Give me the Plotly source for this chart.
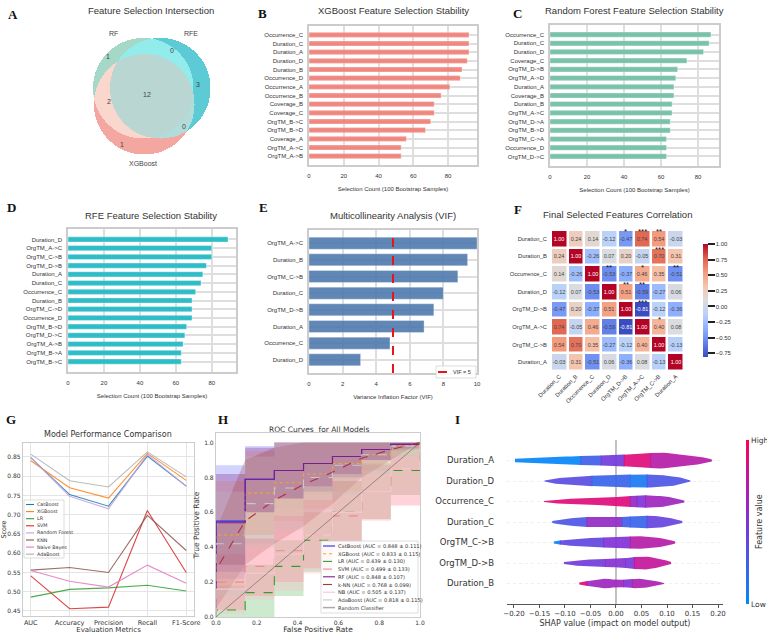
import numpy as np
import plotly.graph_objects as go

W, H = 767, 634

# ======================= DATA =======================
# A  Venn diagram of selected features
venn_set_names = ["RF", "RFE", "XGBoost"]
venn_region_names = ["RF only", "RFE only", "RF & RFE", "XGBoost only", "RF & XGBoost", "RFE & XGBoost", "All three"]
venn_region_counts = [1, 3, 0, 1, 2, 0, 12]

# B  XGBoost stability
xgb_features = ["Occurrence_C", "Duration_C", "Duration_A", "Duration_D", "Duration_B", "Occurrence_D",
                "Occurrence_A", "Occurrence_B", "Coverage_B", "Coverage_C", "OrgTM_B->C", "OrgTM_B->D",
                "Coverage_A", "OrgTM_A->C", "OrgTM_A->B"]
xgb_counts = [92, 92, 92, 91, 88, 87, 81, 76, 72, 72, 70, 67, 56, 53, 53]

# C  Random forest stability
rf_features = ["Occurrence_C", "Duration_C", "Duration_D", "Coverage_C", "OrgTM_D->B", "OrgTM_A->D",
               "Duration_A", "Coverage_B", "Duration_B", "OrgTM_A->C", "OrgTM_D->A", "OrgTM_B->D",
               "OrgTM_C->A", "Occurrence_D", "OrgTM_D->C"]
rf_counts = [87, 86, 83, 74, 69, 68, 67, 67, 66, 66, 65, 65, 63, 63, 63]

# D  RFE stability
rfe_features = ["Duration_D", "OrgTM_A->C", "OrgTM_C->B", "OrgTM_D->B", "Duration_A", "Duration_C",
                "Occurrence_C", "Duration_B", "OrgTM_C->D", "Occurrence_D", "OrgTM_B->D", "OrgTM_D->C",
                "OrgTM_A->B", "OrgTM_B->A", "OrgTM_B->C"]
rfe_counts = [89, 80, 80, 77, 75, 74, 71, 69, 69, 69, 66, 65, 64, 63, 63]

# E  VIF
vif_features = ["OrgTM_A->C", "Duration_B", "OrgTM_C->B", "Duration_C", "OrgTM_D->B", "Duration_A",
                "Occurrence_C", "Duration_D"]
vif_values = [10.0, 9.44, 8.86, 7.99, 7.43, 6.85, 4.82, 3.07]
vif_threshold = 5

# F  correlation
corr_features = ["Duration_C", "Duration_B", "Occurrence_C", "Duration_D", "OrgTM_D->B", "OrgTM_A->C",
                 "OrgTM_C->B", "Duration_A"]
corr_matrix = [
    [1.00, 0.24, 0.14, -0.12, -0.47, 0.74, 0.54, -0.03],
    [0.24, 1.00, -0.26, 0.07, 0.20, -0.05, 0.70, 0.31],
    [0.14, -0.26, 1.00, -0.53, -0.37, 0.46, 0.35, -0.51],
    [-0.12, 0.07, -0.53, 1.00, 0.51, -0.59, -0.27, 0.06],
    [-0.47, 0.20, -0.37, 0.51, 1.00, -0.81, -0.12, -0.36],
    [0.74, -0.05, 0.46, -0.59, -0.81, 1.00, 0.40, 0.08],
    [0.54, 0.70, 0.35, -0.27, -0.12, 0.40, 1.00, -0.13],
    [-0.03, 0.31, -0.51, 0.06, -0.36, 0.08, -0.13, 1.00],
]
corr_star_rows = ["Duration_C", "Duration_C", "Duration_C", "Duration_B", "Occurrence_C", "Occurrence_C",
                  "Occurrence_C", "Duration_D", "Duration_D", "OrgTM_D->B", "OrgTM_A->C"]
corr_star_cols = ["OrgTM_D->B", "OrgTM_A->C", "OrgTM_C->B", "OrgTM_C->B", "Duration_D", "OrgTM_A->C",
                  "Duration_A", "OrgTM_D->B", "OrgTM_A->C", "OrgTM_A->C", "OrgTM_C->B"]
corr_star_marks = ["*", "***", "**", "***", "**", "*", "**", "**", "**", "***", "*"]

# G  model performance
metrics = ["AUC", "Accuracy", "Precision", "Recall", "F1-Score"]
perf_models = ["CatBoost", "XGBoost", "LR", "SVM", "Random Forest", "KNN", "Naive Bayes", "AdaBoost"]
perf_catboost = [0.848, 0.752, 0.722, 0.852, 0.774]
perf_xgboost = [0.840, 0.770, 0.743, 0.859, 0.789]
perf_lr = [0.486, 0.506, 0.510, 0.517, 0.502]
perf_svm = [0.541, 0.456, 0.460, 0.711, 0.550]
perf_rf = [0.848, 0.748, 0.715, 0.856, 0.774]
perf_knn = [0.556, 0.563, 0.550, 0.698, 0.607]
perf_nb = [0.555, 0.527, 0.512, 0.569, 0.522]
perf_ada = [0.857, 0.788, 0.772, 0.863, 0.798]

# H  ROC curves (mean TPR per FPR step, with +-1 std band)
roc_fpr = [0.0, 0.143, 0.286, 0.429, 0.571, 0.714, 0.857, 1.0]
roc_models = ["CatBoost", "XGBoost", "LR", "SVM", "RF", "k-NN", "NB", "AdaBoost"]
roc_auc_labels = ["0.848 ± 0.111", "0.833 ± 0.115", "0.439 ± 0.130", "0.499 ± 0.133",
                  "0.848 ± 0.107", "0.768 ± 0.099", "0.505 ± 0.137", "0.818 ± 0.115"]
tpr_catboost = [0.55, 0.79, 0.84, 0.88, 0.92, 0.96, 0.99]
tpr_catboost_hi = [0.87, 0.98, 1.0, 1.0, 1.0, 1.0, 1.0]
tpr_catboost_lo = [0.22, 0.60, 0.68, 0.72, 0.80, 0.90, 0.97]
tpr_xgboost = [0.47, 0.71, 0.77, 0.82, 0.88, 0.93, 0.98]
tpr_xgboost_hi = [0.78, 0.95, 1.0, 1.0, 1.0, 1.0, 1.0]
tpr_xgboost_lo = [0.16, 0.47, 0.55, 0.62, 0.72, 0.84, 0.93]
tpr_lr = [0.04, 0.14, 0.29, 0.44, 0.60, 0.72, 0.84]
tpr_lr_hi = [0.18, 0.30, 0.44, 0.60, 0.78, 0.88, 0.96]
tpr_lr_lo = [0.0, 0.0, 0.12, 0.26, 0.40, 0.56, 0.70]
tpr_svm = [0.20, 0.29, 0.38, 0.47, 0.58, 0.72, 0.85]
tpr_svm_hi = [0.36, 0.45, 0.58, 0.67, 0.78, 0.87, 0.93]
tpr_svm_lo = [0.04, 0.12, 0.20, 0.28, 0.40, 0.56, 0.64]
tpr_rf = [0.54, 0.79, 0.84, 0.88, 0.92, 0.96, 0.99]
tpr_rf_hi = [0.82, 0.97, 1.0, 1.0, 1.0, 1.0, 1.0]
tpr_rf_lo = [0.26, 0.60, 0.68, 0.75, 0.82, 0.90, 0.96]
tpr_knn = [0.27, 0.55, 0.67, 0.76, 0.83, 0.91, 0.96, 1.0]
tpr_knn_hi = [0.50, 0.90, 0.97, 1.0, 1.0, 1.0, 1.0, 1.0]
tpr_knn_lo = [0.05, 0.30, 0.42, 0.52, 0.65, 0.80, 0.90, 1.0]
tpr_nb = [0.16, 0.25, 0.36, 0.47, 0.60, 0.72, 0.85]
tpr_nb_hi = [0.30, 0.42, 0.62, 0.70, 0.80, 0.88, 0.95]
tpr_nb_lo = [0.02, 0.10, 0.15, 0.25, 0.38, 0.55, 0.70]
tpr_ada = [0.42, 0.65, 0.74, 0.80, 0.87, 0.93, 0.98]
tpr_ada_hi = [0.72, 0.92, 1.0, 1.0, 1.0, 1.0, 1.0]
tpr_ada_lo = [0.12, 0.40, 0.50, 0.60, 0.70, 0.82, 0.92]

# I  SHAP violin summary (density outline + feature-value colour per segment)
shap_features = ["Duration_A", "Duration_D", "Occurrence_C", "Duration_C", "OrgTM_C->B", "OrgTM_D->B", "Duration_B"]
shap_x = [
    [-0.198, -0.15, -0.10, -0.05, 0.0, 0.05, 0.09, 0.13, 0.17, 0.188],
    [-0.14, -0.12, -0.08, -0.04, 0.0, 0.04, 0.08, 0.12, 0.146],
    [-0.141, -0.10, -0.05, 0.0, 0.03, 0.06, 0.10, 0.134],
    [-0.125, -0.10, -0.06, -0.02, 0.01, 0.04, 0.07, 0.10, 0.13],
    [-0.122, -0.11, -0.08, -0.04, 0.0, 0.04, 0.07, 0.10, 0.116],
    [-0.102, -0.07, -0.03, 0.01, 0.035, 0.06, 0.09, 0.108],
    [-0.072, -0.05, -0.02, 0.0, 0.02, 0.04, 0.06, 0.08, 0.094],
]
shap_halfwidth = [
    [0.08, 0.15, 0.19, 0.23, 0.26, 0.34, 0.39, 0.29, 0.16, 0.05],
    [0.03, 0.13, 0.21, 0.26, 0.29, 0.32, 0.31, 0.21, 0.03],
    [0.03, 0.13, 0.16, 0.21, 0.27, 0.31, 0.24, 0.05],
    [0.05, 0.16, 0.24, 0.24, 0.24, 0.29, 0.31, 0.23, 0.05],
    [0.05, 0.10, 0.18, 0.23, 0.26, 0.31, 0.27, 0.16, 0.05],
    [0.05, 0.15, 0.19, 0.21, 0.29, 0.32, 0.19, 0.05],
    [0.05, 0.15, 0.24, 0.18, 0.18, 0.24, 0.19, 0.11, 0.03],
]
shap_breaks = [
    [-0.198, -0.07, -0.03, 0.015, 0.067, 0.188],
    [-0.14, -0.048, 0.027, 0.06, 0.146],
    [-0.141, 0.027, 0.04, 0.057, 0.134],
    [-0.125, -0.058, 0.011, 0.027, 0.06, 0.13],
    [-0.122, -0.11, -0.025, 0.027, 0.116],
    [-0.102, -0.022, 0.018, 0.035, 0.108],
    [-0.072, -0.058, 0.014, 0.031, 0.094],
]
shap_featval = [
    [0.02, 0.25, 0.45, 0.88, 0.72],
    [0.35, 0.22, 0.10, 0.30],
    [0.88, 0.60, 0.50, 0.62],
    [0.30, 0.58, 0.25, 0.22, 0.40],
    [0.05, 0.38, 0.50, 0.72],
    [0.45, 0.52, 0.48, 0.78],
    [0.90, 0.62, 0.52, 0.68],
]

# ======================= HELPERS =======================
SANS = "Liberation Sans"
DEJA = "DejaVu Sans"
GRID = "#dedede"
BORDER = "#cccccc"
TXT = "#333333"

fig = go.Figure()
layout = dict(width=W, height=H, margin=dict(l=0, r=0, t=0, b=0, autoexpand=False), paper_bgcolor="white",
              plot_bgcolor="white", font=dict(family=SANS, size=7, color=TXT), showlegend=False)
annotations = []
shapes = []


def xd(x0, x1):
    return [x0 / W, x1 / W]


def yd(y0, y1):
    return [1 - y1 / H, 1 - y0 / H]


def ax(k, which):
    return f"{which}axis" if k == 1 else f"{which}axis{k}"


def ref(k, which):
    return which if k == 1 else f"{which}{k}"


def text_px(x, y, text, size, family=SANS, color=TXT, **kw):
    d = dict(x=x / W, y=1 - y / H, xref="paper", yref="paper", text=text, showarrow=False,
             xanchor="center", yanchor="middle", font=dict(family=family, size=size, color=color))
    d.update(kw)
    annotations.append(d)


def manual_legend(box, entries, size, family, sample_len, row_h, pad_top):
    x0, y0, x1, y1 = box
    shapes.append(dict(type="rect", xref="paper", yref="paper", x0=x0 / W, x1=x1 / W, y0=1 - y1 / H,
                       y1=1 - y0 / H, fillcolor="rgba(255,255,255,0.88)", line=dict(color="#cfcfcf", width=0.7),
                       layer="above"))
    for i, (name, col, dash, wid) in enumerate(entries):
        yy = y0 + pad_top + i * row_h
        shapes.append(dict(type="line", xref="paper", yref="paper", x0=(x0 + 2) / W, x1=(x0 + 2 + sample_len) / W,
                           y0=1 - yy / H, y1=1 - yy / H, line=dict(color=col, width=wid, dash=dash),
                           layer="above"))
        annotations.append(dict(x=(x0 + 4 + sample_len) / W, y=1 - yy / H, xref="paper", yref="paper",
                                text=name, showarrow=False, xanchor="left", yanchor="middle",
                                font=dict(size=size, family=family, color=TXT), borderpad=0))


# ---------------- A: Venn ----------------
circ = {"RF": (83, 92), "RFE": (100, 92), "XGBoost": (84, 76)}
R = 50
gx = np.arange(0, 180.5, 0.5)
gy = np.arange(0, 160.5, 0.5)
GX, GY = np.meshgrid(gx, gy)
inside = [((GX - circ[s][0]) ** 2 + (GY - circ[s][1]) ** 2 <= R ** 2) for s in venn_set_names]
code = inside[0] * 1 + inside[1] * 2 + inside[2] * 4
zv = np.where(code == 0, np.nan, code).astype(float)
region_cols = ["#a6d8c8", "#5ccbd5", "#93ecec", "#f4a6a0", "#f9d7cd", "#b2dcda", "#b9d6d2"]
cs = []
for i, c in enumerate(region_cols):
    cs.append([i / 7, c])
    cs.append([(i + 1) / 7, c])
fig.add_trace(go.Heatmap(x=gx, y=gy, z=zv, colorscale=cs, zmin=0.5, zmax=7.5, showscale=False,
                         hoverinfo="skip", xaxis="x", yaxis="y"))
layout["xaxis"] = dict(domain=xd(60, 240), anchor="y", range=[0, 180], visible=False)
layout["yaxis"] = dict(domain=yd(20, 180), anchor="x", range=[0, 160], visible=False)
region_pos = [(48, 124), (138, 96), (112, 130), (62, 36), (49, 79), (124, 54), (87, 86)]
for (px_, py_), cnt in zip(region_pos, venn_region_counts):
    annotations.append(dict(x=px_, y=py_, xref="x", yref="y", text=str(cnt), showarrow=False,
                            font=dict(size=7, color="#444", family=SANS)))
set_pos = [(53, 147), (131, 147), (83, 17)]
for (px_, py_), nm in zip(set_pos, venn_set_names):
    annotations.append(dict(x=px_, y=py_, xref="x", yref="y", text=nm, showarrow=False,
                            font=dict(size=7, color="#444", family=SANS)))


# ---------------- bar panels B, C, D ----------------
def bar_panel(k, feats, vals, color, xdom, ydom, xmax, pad, width):
    fig.add_trace(go.Bar(x=vals, y=feats, orientation="h", width=width,
                         marker=dict(color=color, line=dict(color="rgba(255,255,255,0.6)", width=0.6)),
                         xaxis=ref(k, "x"), yaxis=ref(k, "y"), hoverinfo="x+y"))
    n = len(feats)
    layout[ax(k, "x")] = dict(domain=xd(*xdom), anchor=ref(k, "y"), range=[0, xmax],
                              tickvals=[0, 20, 40, 60, 80], showgrid=True, gridcolor=GRID, gridwidth=1.5,
                              zeroline=False, showline=True, mirror=True, linecolor=BORDER, linewidth=1.6,
                              ticks="", tickfont=dict(size=6), ticklabelstandoff=4,
                              title=dict(text="Selection Count (100 Bootstrap Samples)", font=dict(size=6),
                                         standoff=9))
    layout[ax(k, "y")] = dict(domain=yd(*ydom), anchor=ref(k, "x"), type="category", categoryorder="array",
                              categoryarray=feats, range=[n - 1 + pad, -pad], showgrid=True, gridcolor=GRID,
                              gridwidth=1.5, showline=True, mirror=True, linecolor=BORDER, linewidth=1.6,
                              ticks="", tickfont=dict(size=6), ticklabelstandoff=3)


bar_panel(2, xgb_features, xgb_counts, "rgba(240,120,112,0.85)", (309, 477), (26, 165), 96.6, 1.02, 0.6)
bar_panel(3, rf_features, rf_counts, "rgba(110,190,162,0.9)", (550, 719), (25, 166), 91.35, 1.1, 0.6)
bar_panel(4, rfe_features, rfe_counts, "rgba(30,184,196,0.92)", (68, 236), (229, 372), 93.45, 1.2, 0.6)

# ---------------- E: VIF ----------------
fig.add_trace(go.Bar(x=vif_values, y=vif_features, orientation="h", width=0.72,
                     marker=dict(color="rgba(74,118,172,0.88)", line=dict(color="rgba(255,255,255,0.5)", width=0.6)),
                     xaxis="x5", yaxis="y5"))
fig.add_trace(go.Scatter(x=[vif_threshold, vif_threshold], y=[0, 1], mode="lines",
                         line=dict(color="#e8141c", width=2, dash="dash"), name=f"VIF = {vif_threshold}",
                         xaxis="x5", yaxis="y10"))
layout["xaxis5"] = dict(domain=xd(309, 477), anchor="y5", range=[0, 10], tickvals=[0, 2, 4, 6, 8, 10],
                        showgrid=True, gridcolor=GRID, gridwidth=1.5, zeroline=False, showline=True, mirror=True,
                        linecolor=BORDER, linewidth=1.6, ticks="", tickfont=dict(size=6), ticklabelstandoff=4,
                        title=dict(text="Variance Inflation Factor (VIF)", font=dict(size=6), standoff=9))
layout["yaxis5"] = dict(domain=yd(230, 373), anchor="x5", type="category", categoryorder="array",
                        categoryarray=vif_features, range=[7.79, -0.79], showgrid=True, gridcolor=GRID,
                        gridwidth=1.5, showline=True, mirror=True, linecolor=BORDER, linewidth=1.6, ticks="",
                        tickfont=dict(size=6), ticklabelstandoff=3)
layout["yaxis10"] = dict(domain=yd(230, 373), anchor="x5", overlaying="y5", range=[0, 1], visible=False)
manual_legend((436, 366, 476, 378), [(f"VIF = {vif_threshold}", "#e8141c", "dash", 2)], 5.5, SANS, 12, 6, 6)

# ---------------- F: correlation heatmap ----------------
coolwarm = [[0.0, "#3b4cc0"], [0.125, "#6282ea"], [0.25, "#8db0fe"], [0.375, "#b8d0f9"],
            [0.5, "#dddddd"], [0.625, "#f5c4ac"], [0.75, "#f49a7b"], [0.875, "#de604d"], [1.0, "#b40426"]]
fig.add_trace(go.Heatmap(x=corr_features, y=corr_features, z=corr_matrix, colorscale=coolwarm,
                         zmin=-0.81, zmax=1.0, xgap=2.5, ygap=2.5, texttemplate="%{z:.2f}",
                         textfont=dict(size=5.5, family=SANS), xaxis="x6", yaxis="y6",
                         colorbar=dict(x=693 / W, xanchor="left", y=1 - 300.5 / H, yanchor="middle",
                                       len=113 / H, lenmode="fraction", thickness=5, outlinewidth=0, ypad=0,
                                       tickvals=[-0.75, -0.5, -0.25, 0, 0.25, 0.5, 0.75, 1.0],
                                       tickformat=".2f", ticks="outside", ticklen=7, tickwidth=2.4,
                                       tickcolor="#222", tickfont=dict(size=6, family=SANS))))
layout["xaxis6"] = dict(domain=xd(551, 684), anchor="y6", tickangle=-45, tickfont=dict(size=5.8),
                        showgrid=False, zeroline=False, showline=False, ticks="")
layout["yaxis6"] = dict(domain=yd(230, 371), anchor="x6", autorange="reversed", tickfont=dict(size=5.8),
                        showgrid=False, zeroline=False, showline=False, ticks="", ticklabelstandoff=3)
for r_, c_, m_ in zip(corr_star_rows, corr_star_cols, corr_star_marks):
    annotations.append(dict(x=c_, y=r_, xref="x6", yref="y6", text=m_, showarrow=False, yshift=7,
                            font=dict(size=8, color="#111", family=SANS)))

# ---------------- G: performance lines ----------------
perf_vals = [perf_catboost, perf_xgboost, perf_lr, perf_svm, perf_rf, perf_knn, perf_nb, perf_ada]
perf_cols = ["#1f77b4", "#ff7f0e", "#2ca02c", "#d62728", "#c3a4dc", "#8c564b", "#e377c2", "#b0b0b0"]
for nm, vals, col in zip(perf_models, perf_vals, perf_cols):
    fig.add_trace(go.Scatter(x=metrics, y=vals, mode="lines", name=nm, line=dict(color=col, width=1.1),
                             opacity=0.85, xaxis="x7", yaxis="y7"))
layout["xaxis7"] = dict(domain=xd(23, 194), anchor="y7", type="category", range=[-0.2, 4.2],
                        showgrid=True, gridcolor="#e4e4e4", gridwidth=1, zeroline=False, showline=True,
                        mirror=True, linecolor=BORDER, linewidth=1.2, ticks="", tickfont=dict(size=6.5, family=DEJA),
                        title=dict(text="Evaluation Metrics", font=dict(size=7, family=DEJA), standoff=2))
layout["yaxis7"] = dict(domain=yd(443, 616), anchor="x7", range=[0.437, 0.886],
                        tickvals=[0.45, 0.5, 0.55, 0.6, 0.65, 0.7, 0.75, 0.8, 0.85], tickformat=".2f",
                        showgrid=True, gridcolor="#e4e4e4", gridwidth=1, zeroline=False, showline=True,
                        mirror=True, linecolor=BORDER, linewidth=1.2, ticks="", tickfont=dict(size=6, family=DEJA),
                        title=dict(text="Score", font=dict(size=6.5, family=DEJA), standoff=2))
manual_legend((24, 500, 64, 558), [(nm, col, "solid", 1.1) for nm, col in zip(perf_models, perf_cols)],
              4.8, DEJA, 8, 7.1, 4.5)


# ---------------- H: ROC curves ----------------
def step_xy(levels):
    xs, ys = [0.0], [0.0]
    for i, lv in enumerate(levels):
        xs += [roc_fpr[i], roc_fpr[i + 1]]
        ys += [lv, lv]
    xs.append(1.0)
    ys.append(1.0)
    return xs, ys


roc_mean = [tpr_catboost, tpr_xgboost, tpr_lr, tpr_svm, tpr_rf, tpr_knn, tpr_nb, tpr_ada]
roc_hi = [tpr_catboost_hi, tpr_xgboost_hi, tpr_lr_hi, tpr_svm_hi, tpr_rf_hi, tpr_knn_hi, tpr_nb_hi, tpr_ada_hi]
roc_lo = [tpr_catboost_lo, tpr_xgboost_lo, tpr_lr_lo, tpr_svm_lo, tpr_rf_lo, tpr_knn_lo, tpr_nb_lo, tpr_ada_lo]
roc_line_cols = ["#2a2ae6", "#f5a623", "#2e9e2e", "#f08a8a", "#7a1f8a", "#b03040", "#f7c5cf", "#c8c8c8"]
roc_band_cols = ["rgba(110,110,255,0.3)", "rgba(255,160,60,0.24)", "rgba(60,170,60,0.25)",
                 "rgba(255,110,130,0.3)", "rgba(130,30,130,0.3)", "rgba(150,40,40,0.24)",
                 "rgba(255,185,195,0.32)", "rgba(190,190,190,0.25)"]
roc_dash = ["solid", "dot", "dash", "dash", "solid", "dash", "solid", "dash"]

for i, nm in enumerate(roc_models):
    if nm == "k-NN":
        xs, yh, yl = roc_fpr, tpr_knn_hi, tpr_knn_lo
    else:
        xs, yh = step_xy(roc_hi[i])
        _, yl = step_xy(roc_lo[i])
    fig.add_trace(go.Scatter(x=xs, y=yh, mode="lines", line=dict(width=0), hoverinfo="skip",
                             xaxis="x8", yaxis="y8"))
    fig.add_trace(go.Scatter(x=xs, y=yl, mode="lines", line=dict(width=0), fill="tonexty",
                             fillcolor=roc_band_cols[i], hoverinfo="skip", xaxis="x8", yaxis="y8"))
legend_h = []
for i, nm in enumerate(roc_models):
    if nm == "k-NN":
        xs_m = [0.0] + roc_fpr
        ys_m = [0.0] + tpr_knn
    else:
        xs_m, ys_m = step_xy(roc_mean[i])
    label = f"{nm} (AUC = {roc_auc_labels[i]})"
    fig.add_trace(go.Scatter(x=xs_m, y=ys_m, mode="lines", name=label,
                             line=dict(color=roc_line_cols[i], width=1.1, dash=roc_dash[i]),
                             xaxis="x8", yaxis="y8"))
    legend_h.append((label, roc_line_cols[i], roc_dash[i], 1.1))
fig.add_trace(go.Scatter(x=[0, 1], y=[0, 1], mode="lines", name="Random Classifier",
                         line=dict(color="rgba(90,90,90,0.75)", width=0.8), xaxis="x8", yaxis="y8"))
legend_h.append(("Random Classifier", "rgba(150,150,150,0.8)", "solid", 1.5))
layout["xaxis8"] = dict(domain=xd(216, 420), anchor="y8", range=[0, 1], tickvals=[0, 0.2, 0.4, 0.6, 0.8, 1.0],
                        tickformat=".1f", showgrid=False, zeroline=False, showline=True, mirror=True,
                        linecolor=BORDER, linewidth=1.2, ticks="", tickfont=dict(size=6, family=DEJA),
                        title=dict(text="False Positive Rate", font=dict(size=7.5, family=DEJA), standoff=2))
layout["yaxis8"] = dict(domain=yd(433, 617), anchor="x8", range=[0, 1.055],
                        tickvals=[0, 0.2, 0.4, 0.6, 0.8, 1.0], tickformat=".1f", showgrid=False,
                        zeroline=False, showline=True, mirror=True, linecolor=BORDER, linewidth=1.2, ticks="",
                        tickfont=dict(size=6, family=DEJA),
                        title=dict(text="True Positive Rate", font=dict(size=7.5, family=DEJA), standoff=3))
manual_legend((321, 541, 418, 613), legend_h, 5.1, DEJA, 12, 7.7, 5)

# ---------------- I: SHAP violins ----------------
shap_stops = [(0.0, (0, 139, 250)), (0.5, (128, 50, 215)), (0.8, (200, 20, 150)), (1.0, (255, 0, 82))]


def shap_color(v):
    for (a, ca), (b, cb) in zip(shap_stops[:-1], shap_stops[1:]):
        if v <= b:
            t = (v - a) / (b - a)
            c = [int(round(ca[j] + t * (cb[j] - ca[j]))) for j in range(3)]
            return f"rgb({c[0]},{c[1]},{c[2]})"
    c = shap_stops[-1][1]
    return f"rgb({c[0]},{c[1]},{c[2]})"


nrow = len(shap_features)
for i, feat in enumerate(shap_features):
    yc = nrow - 1 - i
    kx, kw = shap_x[i], shap_halfwidth[i]
    br, fv = shap_breaks[i], shap_featval[i]
    for j in range(len(fv)):
        a, b = br[j], br[j + 1]
        xs = np.linspace(a, min(b + 0.002, br[-1]), 14)
        hw = np.interp(xs, kx, kw)
        px_ = np.concatenate([xs, xs[::-1]])
        py_ = np.concatenate([yc + hw, (yc - hw)[::-1]])
        fig.add_trace(go.Scatter(x=px_, y=py_, mode="lines", fill="toself", fillcolor=shap_color(fv[j]),
                                 line=dict(width=0, color=shap_color(fv[j])),
                                 hoverinfo="skip", xaxis="x9", yaxis="y9", opacity=0.92))
fig.add_trace(go.Scatter(x=[0, 0], y=[3, 3], mode="markers",
                         marker=dict(size=0.1, opacity=0, color=[0, 1],
                                     colorscale=[[s, f"rgb{c}"] for s, c in shap_stops], showscale=True,
                                     colorbar=dict(x=736 / W, xanchor="left", y=1 - 522 / H, yanchor="middle",
                                                   len=164 / H, lenmode="fraction", thickness=3, outlinewidth=0,
                                                   ypad=0, tickvals=[0, 1], ticktext=["Low", "High"], ticks="",
                                                   tickfont=dict(size=7.5, family=DEJA))),
                         hoverinfo="skip", xaxis="x9", yaxis="y9"))
text_px(759, 522, "Feature value", 8, family=DEJA, textangle=-90)
layout["xaxis9"] = dict(domain=xd(507, 723), anchor="y9", range=[-0.2137, 0.2098],
                        tickvals=[-0.2, -0.15, -0.1, -0.05, 0, 0.05, 0.1, 0.15, 0.2], tickformat=".2f",
                        showgrid=False, zeroline=False, showline=True, linecolor="#555", linewidth=1,
                        ticks="outside", ticklen=3, tickcolor="#555", tickfont=dict(size=7, family=DEJA),
                        title=dict(text="SHAP value (impact on model output)", font=dict(size=8, family=DEJA),
                                   standoff=2))
layout["yaxis9"] = dict(domain=yd(440, 604), anchor="x9", range=[-1, 7],
                        tickvals=list(range(nrow - 1, -1, -1)), ticktext=shap_features,
                        showgrid=True, gridcolor="#eeeeee", griddash="dot", gridwidth=1, zeroline=False,
                        showline=False, ticks="", tickfont=dict(size=8.5, family=DEJA), ticklabelstandoff=12)
shapes.append(dict(type="line", xref="x9", yref="y9 domain", x0=0, x1=0, y0=0, y1=1,
                   line=dict(color="#999999", width=1.2), layer="below"))

# ---------------- titles & panel letters ----------------
text_px(151, 10, "Feature Selection Intersection", 9.5)
text_px(393, 10, "XGBoost Feature Selection Stability", 9.5)
text_px(634, 10, "Random Forest Feature Selection Stability", 9.5)
text_px(151, 215, "RFE Feature Selection Stability", 9.5)
text_px(393, 215, "Multicollinearity Analysis (VIF)", 9.5)
text_px(617, 214, "Final Selected Features Correlation", 9.5)
text_px(108, 435, "Model Performance Comparison", 8, family=DEJA)
text_px(319, 429, "ROC Curves  for All Models", 7.5, family=DEJA)

for L, x, y in [("A", 13, 15), ("B", 262, 14), ("C", 517, 14), ("D", 11, 208), ("E", 263, 208),
                ("F", 518, 210), ("G", 11, 419), ("H", 223, 419), ("I", 457, 419)]:
    text_px(x, y, f"<b>{L}</b>", 13, family="Liberation Serif", color="#111")

layout["annotations"] = annotations
layout["shapes"] = shapes
fig.update_layout(**layout)
fig.write_html("out.html")
